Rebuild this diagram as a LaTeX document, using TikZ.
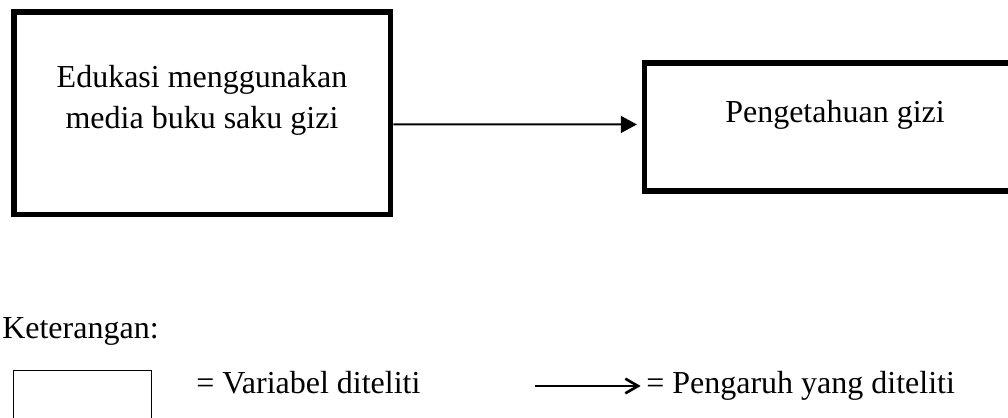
\documentclass[tikz,border=0pt]{standalone}
\usepackage{fontspec}
\setmainfont{Liberation Serif}
\usepackage{tikz}
\usetikzlibrary{arrows.meta, positioning}

\begin{document}
\begin{tikzpicture}[x=0.75pt, y=-0.75pt,
        txt/.style={inner sep=0pt, font=\fontsize{24}{30.75}\selectfont},
        varbox/.style={draw, rectangle, line width=4.1pt}]
        \path[use as bounding box, clip] (0,0) rectangle (1008,418);

        \node[varbox, minimum width=282.4pt, minimum height=151.9pt] (edu) at (202.25,113.25) {};
        \node[varbox, minimum width=285.4pt, minimum height=96pt] (peng) at (834.75,127) {};
        \node[txt, align=center] (edutext) at (202,100.5) {Edukasi menggunakan\\media buku saku gizi};
        \node[txt, anchor=base] (pengtext) at (835,122) {Pengetahuan gizi};

        \draw[line width=1.5pt, -{Triangle[length=12pt, width=12.5pt]}, shorten >=3.6pt] ([yshift=-8.4pt]edu.east) -- ([yshift=1.9pt]peng.west);

        \node[txt, anchor=base west] (keter) at (2,338) {Keterangan:};
        \node[draw, line width=1pt, minimum width=103.5pt, minimum height=67.5pt, anchor=north west] (legbox) at (12.5,369.5) {};
        \node[txt, anchor=base west] (vartext) at (196,393) {= Variabel diteliti};
        \coordinate (legstart) at (535,386);
        \node[txt, anchor=base west] (efftext) at (646,393) {= Pengaruh yang diteliti};
        \draw[line width=2pt, -{Straight Barb[length=9.5pt, width=11pt]}, shorten >=4pt] (legstart) -- (legstart -| efftext.west);
    \end{tikzpicture}
\end{document}
